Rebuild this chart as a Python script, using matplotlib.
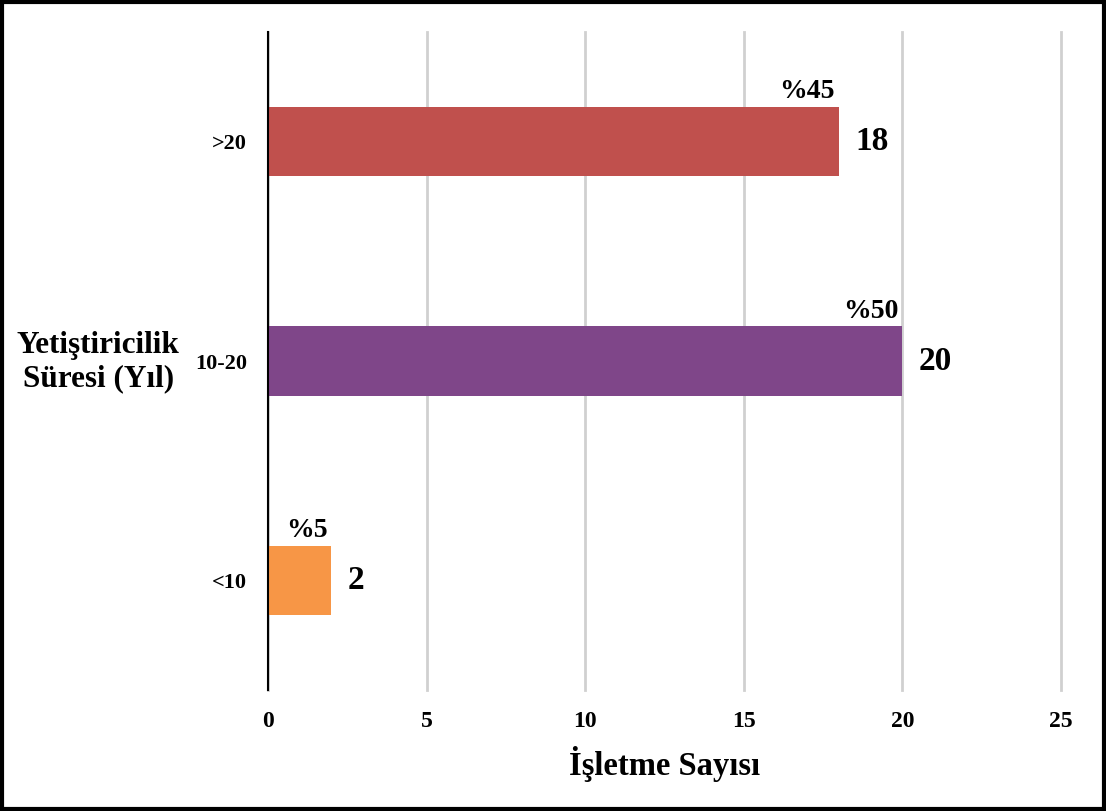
import matplotlib.pyplot as plt
from matplotlib.patches import Rectangle

# Veriler
kategoriler = ["<10", "10-20", ">20"]
isletme_sayisi = [2, 20, 18]
yuzdeler = ["%5", "%50", "%45"]
renkler = ["#F79646", "#7F4689", "#C0504D"]
x_ticks = [0, 5, 10, 15, 20, 25]

plt.rcParams['font.family'] = ['Liberation Serif', 'DejaVu Serif']
plt.rcParams['font.weight'] = 'bold'

fig = plt.figure(figsize=(11.06, 8.11), dpi=100)
ax = fig.add_axes([0.2423, 0.1492, 0.7170, 0.8113])

y_pos = range(len(kategoriler))
bars = ax.barh(y_pos, isletme_sayisi, height=0.315, color=renkler, zorder=3)

ax.set_xlim(0, 25)
ax.set_ylim(-0.5, 2.5)
ax.set_xticks(x_ticks)
ax.set_xticklabels([str(t) for t in x_ticks], fontsize=17, fontweight='bold')
ax.set_yticks(list(y_pos))
ax.set_yticklabels(kategoriler, fontsize=16, fontweight='bold')
ax.tick_params(axis='both', length=0)
ax.tick_params(axis='x', pad=15)
ax.tick_params(axis='y', pad=15)

ax.grid(axis='x', color='#D0D0D0', linewidth=2, zorder=0)
for gl in ax.get_xgridlines():
    gl.set_clip_on(False)
for s in ['top', 'right', 'bottom']:
    ax.spines[s].set_visible(False)
ax.spines['left'].set_color('black')
ax.spines['left'].set_linewidth(1.5)
ax.spines['left'].set_zorder(4)

# Değer ve yüzde etiketleri
for b, v, p in zip(bars, isletme_sayisi, yuzdeler):
    yc = b.get_y() + b.get_height() / 2
    ax.annotate(str(v), (v, yc), xytext=(12, 0), textcoords='offset points',
                ha='left', va='center', fontsize=24, fontweight='bold')
    ax.annotate(p, (v, b.get_y() + b.get_height()), xytext=(-3, 2),
                textcoords='offset points', ha='right', va='bottom',
                fontsize=20, fontweight='bold')

ax.set_xlabel("İşletme Sayısı", fontsize=23.5, fontweight='bold', labelpad=10)
fig.text(0.089, 0.553, "Yetiştiricilik\nSüresi (Yıl)", ha='center', va='center',
         fontsize=22.5, fontweight='bold', linespacing=1.2)

# Çerçeve
fig.patches.append(Rectangle((0.0015, 0.002), 0.997, 0.996, transform=fig.transFigure,
                             fill=False, edgecolor='black', linewidth=3))

plt.savefig("out.png", dpi=100)
plt.close()
